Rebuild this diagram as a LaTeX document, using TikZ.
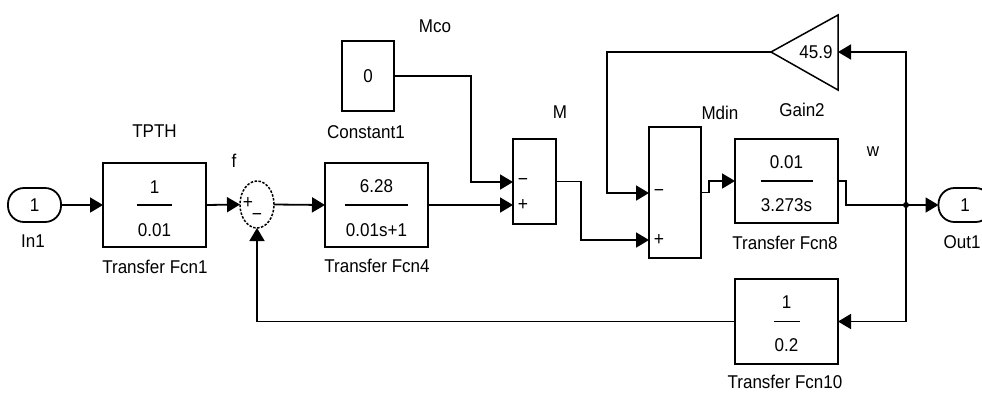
\documentclass[tikz,border=0pt]{standalone}
\usepackage{fontspec}
\setmainfont[FakeStretch=0.92]{Liberation Sans}
\usetikzlibrary{arrows.meta,shapes.geometric,calc}
\tikzset{
  lbl/.style={font=\fontsize{18.5}{20}\selectfont, inner sep=0pt},
  blk/.style={draw, line width=1.8pt, inner sep=0pt, outer sep=0pt},
  tf/.style={blk, minimum width=103pt, minimum height=84pt},
  port/.style={blk, rounded corners=16pt, minimum width=53pt, minimum height=34pt, font=\fontsize{18.5}{20}\selectfont},
  sgn/.style={font=\fontsize{19}{20}\selectfont, inner sep=0pt},
  wire/.style={line width=1.8pt},
  arr/.style={wire, -{Triangle[length=13pt,width=15pt]}},
  bar/.style={line width=1.8pt}
}
\begin{document}
\begin{tikzpicture}[x=1pt,y=-1pt]
\useasboundingbox (0,0) rectangle (982,392);
% blocks
\node[port] (in1) at (34.5,205) {1};
\node[lbl] (in1l) at (33,241) {In1};
\node[tf] (tf1) at (154.5,205) {};
\node[lbl] (tf1t) at (154.5,131) {TPTH};
\node[lbl] (tf1l) at (155,267) {Transfer Fcn1};
\node[lbl] (tf1n) at ([yshift=18pt]tf1.center) {1};
\node[lbl] (tf1d) at ([yshift=-25pt]tf1.center) {0.01};
\draw[bar] ([xshift=-17.5pt]tf1.center) -- ([xshift=17.5pt]tf1.center);

\node[ellipse, draw, line width=1.5pt, dash pattern=on 2.5pt off 1.5pt, minimum width=34pt, minimum height=47pt, inner sep=0pt, outer sep=0pt] (sum) at (257,204.5) {};
\node[sgn] (sump) at (248,203) {+};
\node[sgn] (summ) at (257,217) {\textminus};
\node[lbl] (sumt) at (234,161) {f};

\node[tf] (tf4) at (376.5,205) {};
\node[lbl] (tf4n) at ([yshift=19pt]tf4.center) {6.28};
\node[lbl] (tf4d) at ([yshift=-25pt]tf4.center) {0.01s+1};
\draw[bar] ([xshift=-31.5pt]tf4.center) -- ([xshift=31.5pt]tf4.center);
\node[lbl] (tf4l) at (377,266) {Transfer Fcn4};

\node[blk, minimum width=52pt, minimum height=70pt, font=\fontsize{18.5}{20}\selectfont] (const) at (368,76) {0};
\node[lbl] (constl) at (366,132) {Constant1};
\node[lbl] (constt) at (435,26) {Mco};

\node[blk, minimum width=43pt, minimum height=85pt] (msum) at (534.5,181.5) {};
\coordinate (mminus) at (513,182);
\coordinate (mplus) at (513,205);
\node[sgn] (msm) at (523,182) {\textminus};
\node[sgn] (msp) at (523,205) {+};
\node[lbl] (mt) at (560,112) {M};

\node[blk, minimum width=52pt, minimum height=131pt] (mdin) at (675,192.5) {};
\coordinate (dminus) at (649,193);
\coordinate (dplus) at (649,240);
\node[sgn] (dsm) at (659,193) {\textminus};
\node[sgn] (dsp) at (659,240) {+};
\node[lbl] (mdint) at (720,113) {Mdin};

\node[tf] (tf8) at (786.5,181) {};
\node[lbl] (tf8n) at ([yshift=19pt]tf8.center) {0.01};
\node[lbl] (tf8d) at ([yshift=-24pt]tf8.center) {3.273s};
\draw[bar] ([xshift=-26pt]tf8.center) -- ([xshift=26pt]tf8.center);
\node[lbl] (tf8l) at (785,243) {Transfer Fcn8};

\coordinate (gout) at (771,52);
\coordinate (gin) at (838,52);
\coordinate (gtop) at (838,15);
\coordinate (gbot) at (838,90);
\draw[line width=1.5pt, line join=miter] (gout) -- (gtop) -- (gbot) -- cycle;
\node[lbl] (gain) at (816,52) {45.9};
\node[lbl] (gainl) at (802,110) {Gain2};

\node[tf, minimum height=85pt] (tf10) at (786.5,321.5) {};
\node[lbl] (tf10n) at ([yshift=19pt]tf10.center) {1};
\node[lbl] (tf10d) at ([yshift=-24pt]tf10.center) {0.2};
\draw[bar] ([xshift=-13pt]tf10.center) -- ([xshift=13pt]tf10.center);
\node[lbl] (tf10l) at (785,382) {Transfer Fcn10};

\node[port] (out1) at (965,205) {1};
\node[lbl] (out1l) at (962,242) {Out1};
\node[lbl] (wl) at (873,152) {w};

\coordinate (jn) at (906,205);
\coordinate (c1) at (471,76);
\coordinate (g1) at (607,52);

% connectors
\draw[arr] (in1.east) -- (tf1.west);
\draw[arr] (tf1.east) -- (sum.west);
\draw[arr] (sum.east) -- (tf4.west);
\draw[arr] (tf4.east) -- (mplus);
\draw[arr] (const.east) -- (c1) |- (mminus);
\draw[arr] (msum.east) -- ++(25,0) |- (dplus);
\draw[arr] (mdin.east) -- ++(8,0) |- (tf8.west);
\draw[wire] (tf8.east) -- ++(8,0) |- (jn);
\draw[arr] (jn) -- (out1.west);
\draw[arr] (jn) |- (gin);
\draw[arr] (jn) |- (tf10.east);
\draw[arr] (gout) -- (g1) |- (dminus);
\draw[arr] (tf10.west) -| (sum.south);
\fill (jn) circle (3pt);
\end{tikzpicture}
\end{document}
